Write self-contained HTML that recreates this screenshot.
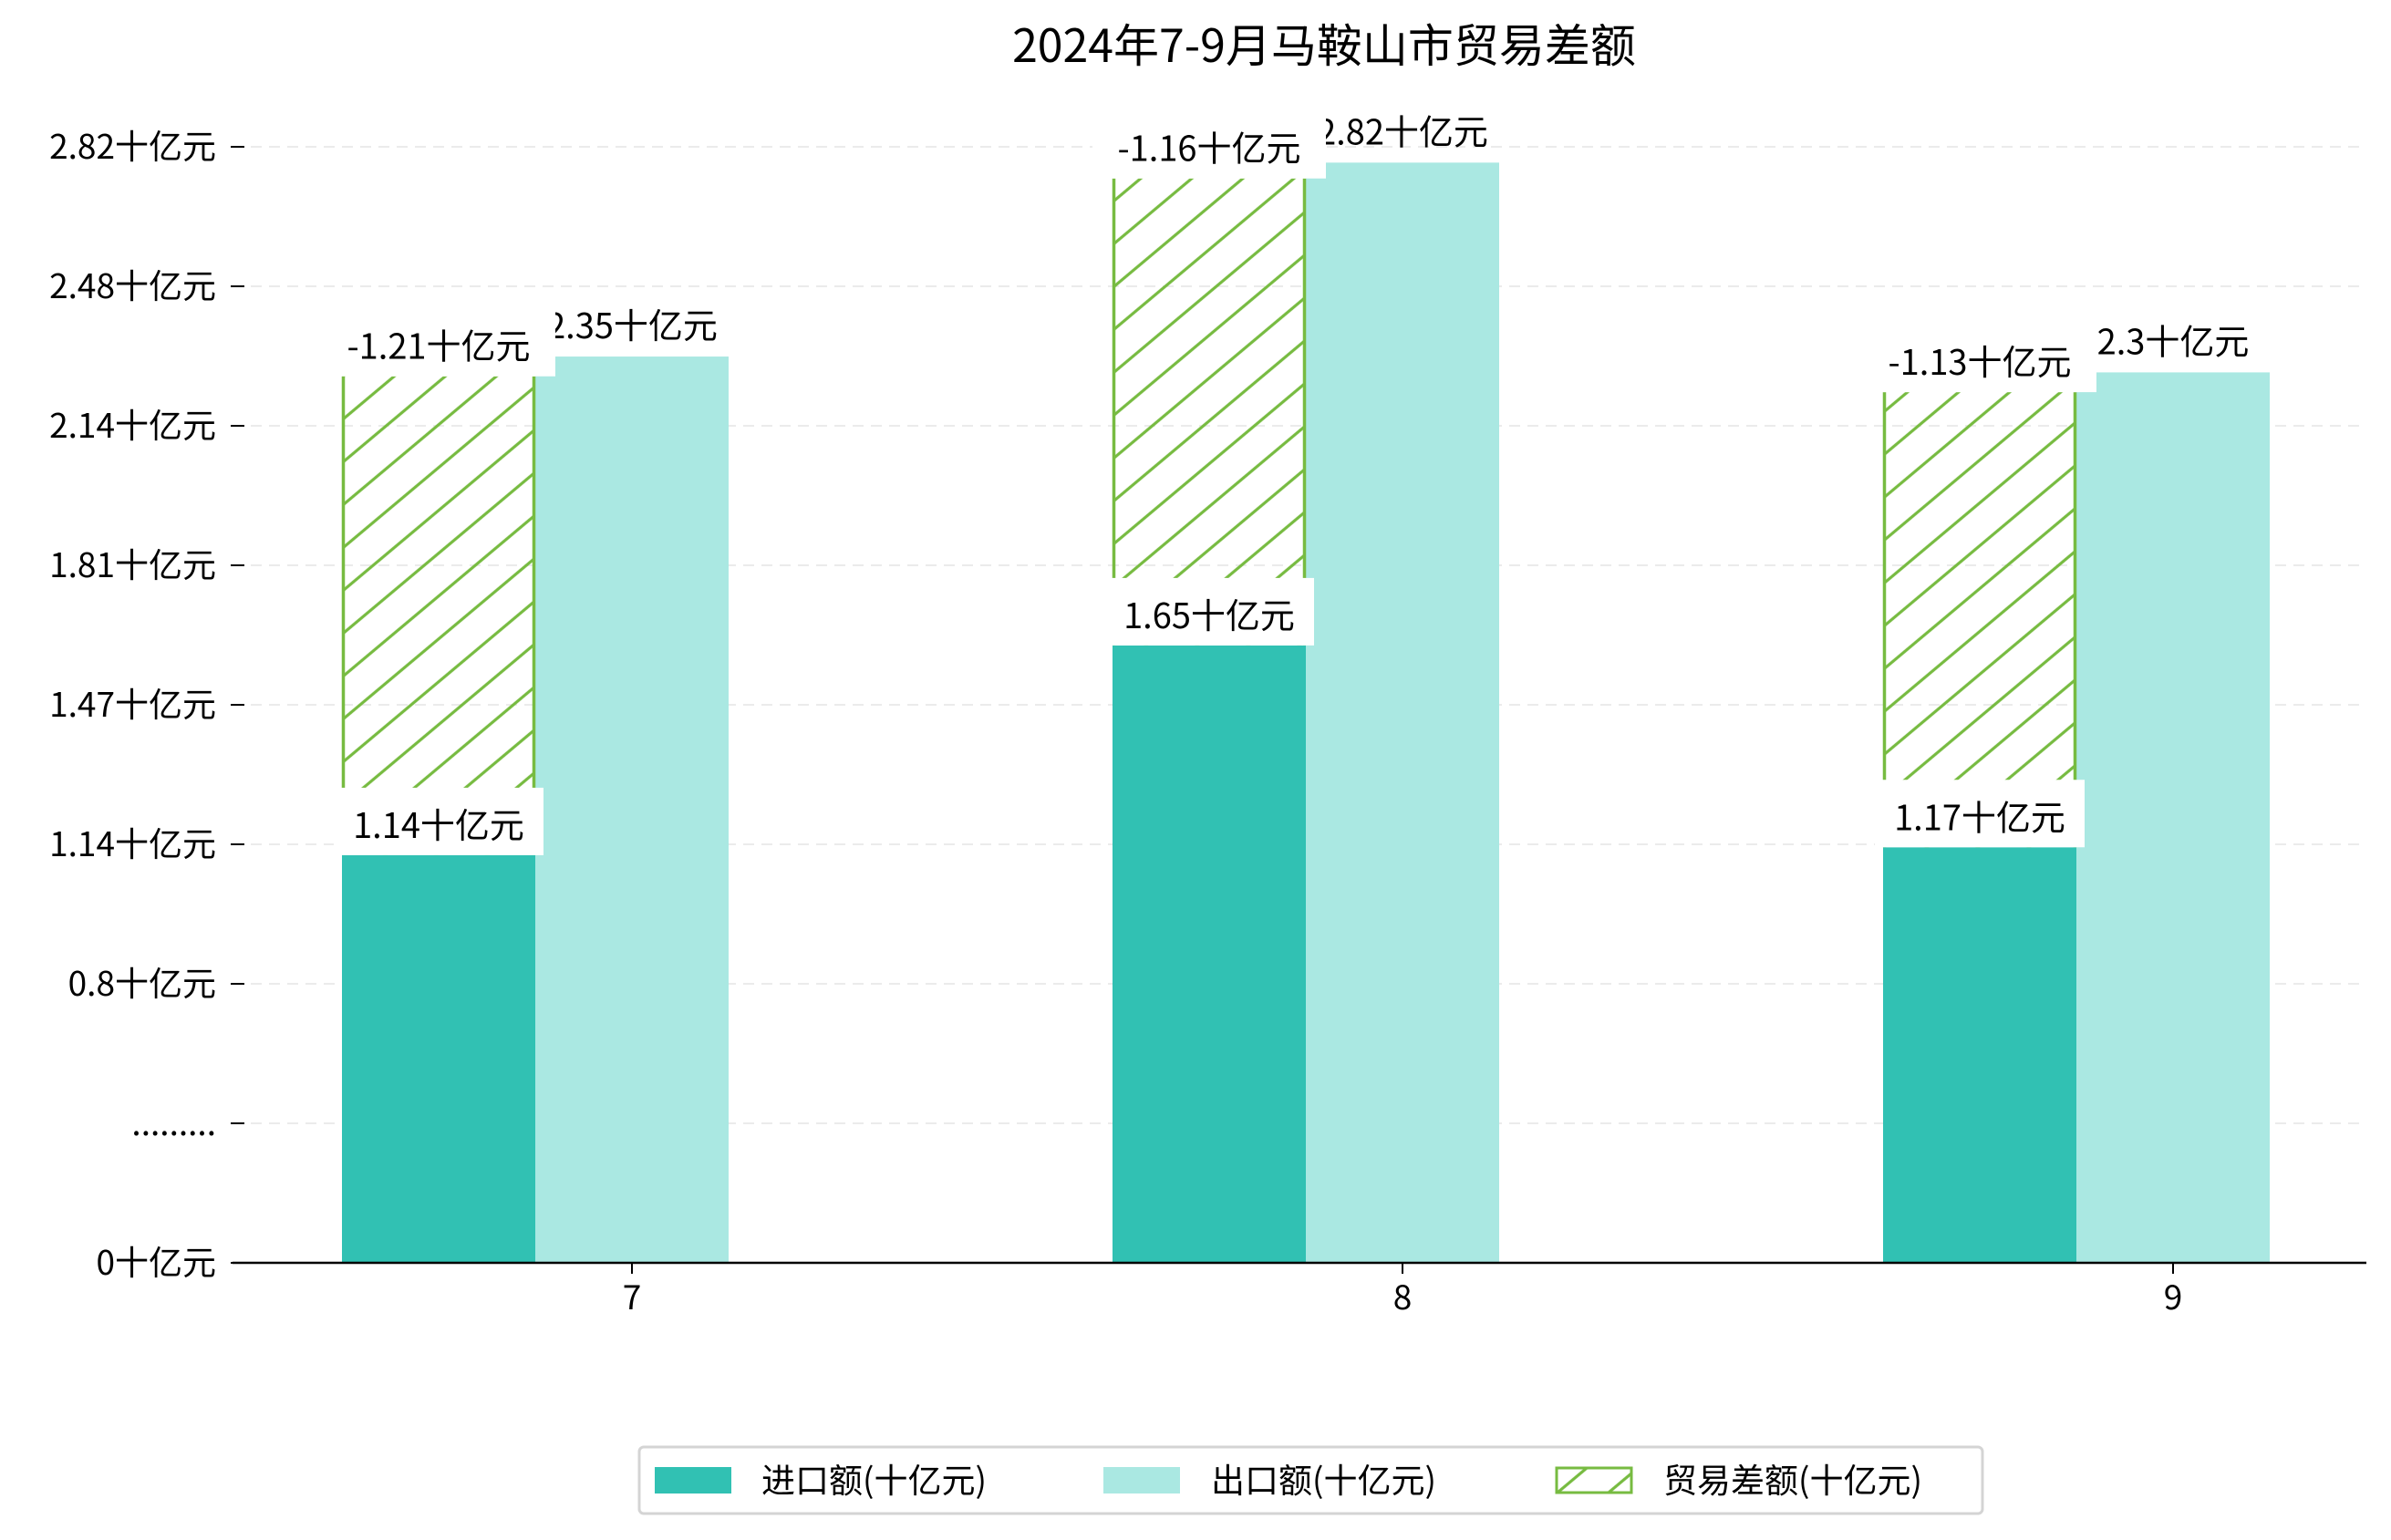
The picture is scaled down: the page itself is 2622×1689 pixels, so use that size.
<!DOCTYPE html>
<html><head><meta charset="utf-8">
<style>
html,body{margin:0;padding:0;background:#fff;}
svg{display:block;font-family:"WenQuanYi Zen Hei","Noto Sans CJK SC",sans-serif;}
</style></head>
<body>
<svg id="chart" width="2622" height="1689" viewBox="0 0 2622 1689" xmlns="http://www.w3.org/2000/svg">
<defs>
<pattern id="hatch" patternUnits="userSpaceOnUse" width="36" height="36" patternTransform="rotate(50)">
<line x1="18" y1="0" x2="18" y2="36" stroke="#77bb41" stroke-width="3.2"/>
</pattern>
</defs>
<text x="1452" y="68" text-anchor="middle" font-size="50" fill="#000">2024年7-9月马鞍山市贸易差额</text>
<g id="grid"></g>
<g id="bars"></g>
<g id="labels"></g>
<g id="axes"></g>
<g id="legend" transform="translate(0,-8)">
<rect x="701" y="1595" width="1473" height="73" rx="5" fill="#fff" stroke="#d4d4d4" stroke-width="3"/>
<rect x="718" y="1617" width="84" height="29" fill="#31c1b3"/>
<text x="835" y="1645" font-size="37">进口额(十亿元)</text>
<rect x="1210" y="1617" width="84" height="29" fill="#aae8e2"/>
<text x="1328" y="1645" font-size="37">出口额(十亿元)</text>
<rect x="1707" y="1618" width="82" height="27" fill="url(#hatch)" stroke="#77bb41" stroke-width="3"/>
<text x="1824" y="1645" font-size="37">贸易差额(十亿元)</text>
</g>
</svg>
<script>
const categories = ["7", "8", "9"];
const importValues = [1.03, 1.56, 1.05];
const exportValues = [2.29, 2.78, 2.25];
const balanceValues = [-1.21, -1.18, -1.15];
const importLabels = ["1.14十亿元", "1.65十亿元", "1.17十亿元"];
const exportLabels = ["2.35十亿元", "2.82十亿元", "2.3十亿元"];
const balanceLabels = ["-1.21十亿元", "-1.16十亿元", "-1.13十亿元"];
const yTickLabels = ["0十亿元", ".........", "0.8十亿元", "1.14十亿元", "1.47十亿元", "1.81十亿元", "2.14十亿元", "2.48十亿元", "2.82十亿元"];
const yTickMax = 2.82;

const NS = "http://www.w3.org/2000/svg";
const plotLeft = 255, plotRight = 2595, baseY = 1385, topY = 161;
const barW = 212;
function yScale(v){ return baseY - v / yTickMax * (baseY - topY); }
function xScale(i){ return 693 + i * 845; }
function mk(tag, attrs, parent){
  const e = document.createElementNS(NS, tag);
  for (const k in attrs) e.setAttribute(k, attrs[k]);
  parent.appendChild(e);
  return e;
}
const grid = document.getElementById('grid');
const bars = document.getElementById('bars');
const labels = document.getElementById('labels');
const axes = document.getElementById('axes');

yTickLabels.forEach((lab, i) => {
  const y = baseY - i * (baseY - topY) / (yTickLabels.length - 1);
  if (i > 0) {
    const g = mk('line', {x1: plotLeft, x2: plotRight, y1: y, y2: y, stroke: '#ebebeb', 'stroke-width': 2, 'stroke-dasharray': '12,8'}, grid);
    
    
  }
  const t = mk('line', {x1: 253, x2: 268, y1: y, y2: y, stroke: '#000', 'stroke-width': 2}, axes);
  
  
  const tx = mk('text', {x: 237, y: y + 13, 'text-anchor': 'end', 'font-size': 37}, axes);
  tx.textContent = lab;
  
  
});

function labelBox(cx, yTop, text, name){
  const w = text.length * 26 + 48;
  const r = mk('rect', {x: cx - w / 2, y: yTop - 74, width: w, height: 74, fill: '#fff'}, labels);
  
  
  const t = mk('text', {x: cx, y: yTop - 19, 'text-anchor': 'middle', 'font-size': 38}, labels);
  t.textContent = text;
  
  
}

categories.forEach((c, i) => {
  const cx = xScale(i);
  const ix = cx - 1.5 * barW, ex = cx - 0.5 * barW;
  const iy = yScale(importValues[i]);
  const ey = yScale(exportValues[i]);
  const by = yScale(importValues[i] + Math.abs(balanceValues[i]));
  const b1 = mk('rect', {x: ix, y: iy, width: barW, height: baseY - iy, fill: '#31c1b3'}, bars);
  
  
  const b2 = mk('rect', {x: ex, y: ey, width: barW, height: baseY - ey, fill: '#aae8e2'}, bars);
  
  
  const b3 = mk('rect', {x: ix, y: by, width: barW, height: iy - by, fill: 'url(#hatch)'}, bars);
  
  
  const l1 = mk('line', {x1: ix + 1.5, x2: ix + 1.5, y1: by, y2: iy, stroke: '#77bb41', 'stroke-width': 3.5}, bars);
  
  
  const l2 = mk('line', {x1: ex - 1.5, x2: ex - 1.5, y1: by, y2: iy, stroke: '#77bb41', 'stroke-width': 3.5}, bars);
  
  
  const et = mk('text', {x: ex + barW / 2, y: ey - 20, 'text-anchor': 'middle', 'font-size': 38}, labels);
  et.textContent = exportLabels[i];
  
  
  labelBox(ix + barW / 2, by, balanceLabels[i], 'balance-label-' + c);
  labelBox(ix + barW / 2, iy, importLabels[i], 'import-label-' + c);
  const xt = mk('line', {x1: cx, x2: cx, y1: baseY, y2: baseY + 12, stroke: '#000', 'stroke-width': 2}, axes);
  
  
  const xl = mk('text', {x: cx, y: baseY + 51, 'text-anchor': 'middle', 'font-size': 37}, axes);
  xl.textContent = c;
  
  
});
const ax = mk('line', {x1: plotLeft, x2: plotRight, y1: baseY, y2: baseY, stroke: '#000', 'stroke-width': 2.5}, axes);


</script>
</body></html>
